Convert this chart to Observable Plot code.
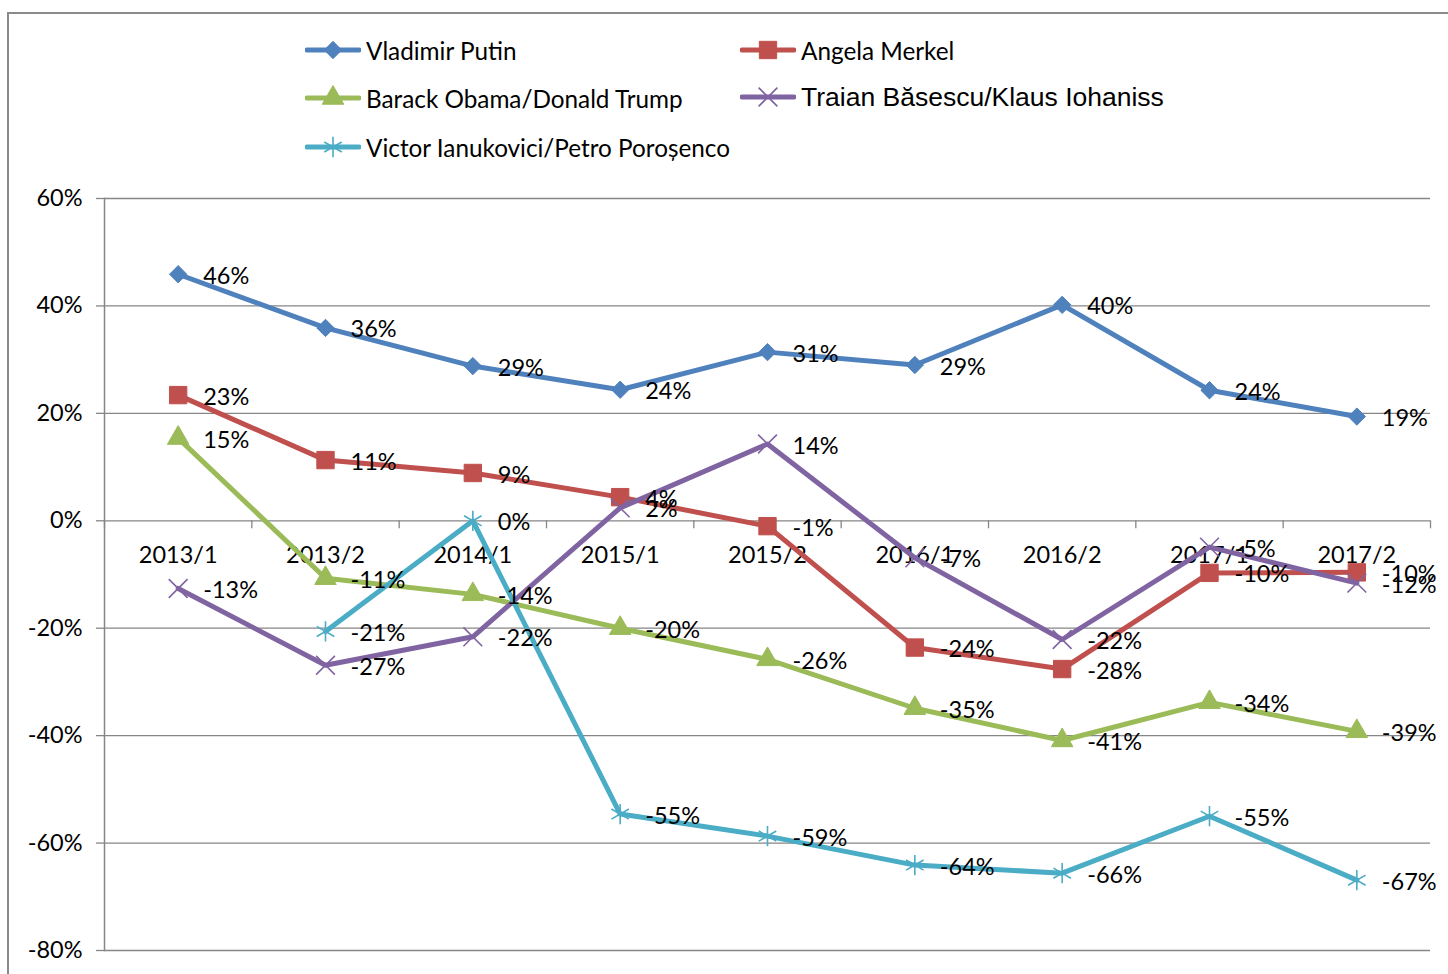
<!DOCTYPE html>
<html>
<head>
<meta charset="utf-8">
<script src="https://cdn.jsdelivr.net/npm/d3@7"></script>
<script src="https://cdn.jsdelivr.net/npm/@observablehq/plot@0.6"></script>
<style>
  html, body { margin: 0; padding: 0; background: #fff; }
  #wrap { position: relative; width: 1448px; height: 974px; overflow: hidden; font-family: Lato, "Open Sans", sans-serif; }
  #border { position: absolute; left: 7px; top: 12px; width: 1500px; height: 1000px; border-left: 2px solid #8a8a8a; border-top: 2px solid #8a8a8a; }
  .leg { position: absolute; display: flex; align-items: center; height: 30px; white-space: nowrap; color: #000; }
  .leg svg { display: block; margin-right: 5px; }
  #chart { position: absolute; left: 0; top: 180px; }
</style>
</head>
<body>
<div id="wrap">
  <div id="border"></div>
  <div id="legend"></div>
  <div id="chart"></div>
</div>
<script>
const categories = ["2013/1", "2013/2", "2014/1", "2015/1", "2015/2", "2016/1", "2016/2", "2017/1", "2017/2"];
const seriesNames = ["Vladimir Putin", "Angela Merkel", "Barack Obama/Donald Trump", "Traian Băsescu/Klaus Iohaniss", "Victor Ianukovici/Petro Poroșenco"];
const putin   = [45.9, 35.9, 28.8, 24.4, 31.4, 29.0, 40.2, 24.3, 19.4];
const merkel  = [23.4, 11.3, 8.9, 4.4, -1.0, -23.6, -27.6, -9.7, -9.6];
const obama   = [15.4, -10.7, -13.7, -20.0, -25.8, -34.9, -40.9, -33.8, -39.2];
const basescu = [-12.6, -26.9, -21.6, 2.4, 14.3, -6.9, -22.1, -4.9, -11.6];
const ianuk   = [null, -20.6, 0, -54.6, -58.7, -64.1, -65.6, -55.0, -66.9];
const yTicks  = [-80, -60, -40, -20, 0, 20, 40, 60];
const colors  = ["#4F81BD", "#C0504D", "#9BBB59", "#8064A2", "#4BACC6"];

const seriesValues = [putin, merkel, obama, basescu, ianuk];
const symbols = ["diamond2", "square", "triangle", "times", "asterisk"];
const symbolR = [7.8, 9.8, 8.0, 8.6, 9.6];
const filled = [true, true, true, false, false];
const d3Symbols = [d3.symbolDiamond2, d3.symbolSquare, d3.symbolTriangle, d3.symbolTimes, d3.symbolAsterisk];

const rows = [];
seriesValues.forEach((vals, s) => {
  vals.forEach((v, i) => rows.push({s, name: seriesNames[s], i, v}));
});

// Legend (HTML)
const legendPos = [
  {left: 305, top: 35, font: "Lato", size: 24.3},
  {left: 740, top: 35, font: "Lato", size: 24.3},
  {left: 305, top: 83, font: "Lato", size: 24.3},
  {left: 740, top: 82, font: "'Liberation Sans', Arial", size: 26.5},
  {left: 305, top: 132, font: "Lato", size: 24.3}
];
const legend = document.getElementById("legend");
seriesNames.forEach((name, s) => {
  const p = legendPos[s];
  const div = document.createElement("div");
  div.className = "leg";
  div.style.left = p.left + "px";
  div.style.top = p.top + "px";
  div.style.fontFamily = p.font;
  div.style.fontSize = p.size + "px";
  const sym = d3.symbol(d3Symbols[s], Math.PI * symbolR[s] * symbolR[s])();
  const fill = filled[s] ? colors[s] : "none";
  div.innerHTML = `<svg width="56" height="30"><line x1="2" x2="54" y1="15" y2="15" stroke="${colors[s]}" stroke-width="5" stroke-linecap="round"/><path transform="translate(28,15)" d="${sym}" fill="${fill}" stroke="${colors[s]}" stroke-width="${filled[s] ? 1 : 1.6}"/></svg><span>${name}</span>`;
  legend.appendChild(div);
});

const boundaries = d3.range(categories.length + 1).map(i => i - 0.5);
const gray = "#868686";
const fs = 23.5;

const marks = [
  Plot.gridY(yTicks, {stroke: gray, strokeOpacity: 1, strokeWidth: 1.3}),
  Plot.frame({anchor: "left", stroke: gray, strokeWidth: 1.5}),
  Plot.axisY(yTicks, {tickFormat: d => d + "%", tickSize: 8, tickPadding: 14, fontSize: fs, stroke: gray, strokeWidth: 1.3, label: null, fill: "#000"}),
  Plot.ruleX(boundaries, {x: d => d, y1: 0, y2: 0, insetBottom: -8, stroke: gray, strokeWidth: 1.3}),
  Plot.text(categories, {x: (d, i) => i, y: 0, text: d => d, dy: 35, fontSize: fs, fill: "#000"})
];
seriesValues.forEach((vals, s) => {
  const data = rows.filter(r => r.s === s);
  marks.push(Plot.line(data, {x: "i", y: "v", stroke: colors[s], strokeWidth: 5, curve: "linear"}));
  marks.push(Plot.dot(data.filter(r => r.v != null), {
    x: "i", y: "v", symbol: () => symbols[s], r: symbolR[s],
    fill: filled[s] ? colors[s] : "none", stroke: colors[s], strokeWidth: filled[s] ? 1 : 1.6
  }));
});
marks.push(Plot.text(rows.filter(r => r.v != null), {
  x: "i", y: "v", text: r => Math.round(r.v) + "%", dx: 25, dy: 2, textAnchor: "start", fontSize: fs, fill: "#000"
}));

const chart = Plot.plot({
  width: 1448,
  height: 790,
  marginTop: 18,
  marginBottom: 20,
  marginLeft: 104,
  marginRight: 18,
  style: {fontFamily: "Lato, 'Open Sans', sans-serif", background: "transparent", overflow: "visible"},
  x: {type: "linear", domain: [-0.5, categories.length - 0.5], axis: null},
  y: {domain: [-80, 60], axis: null},
  symbol: {type: "identity"},
  marks
});
document.getElementById("chart").appendChild(chart);
</script>
</body>
</html>
